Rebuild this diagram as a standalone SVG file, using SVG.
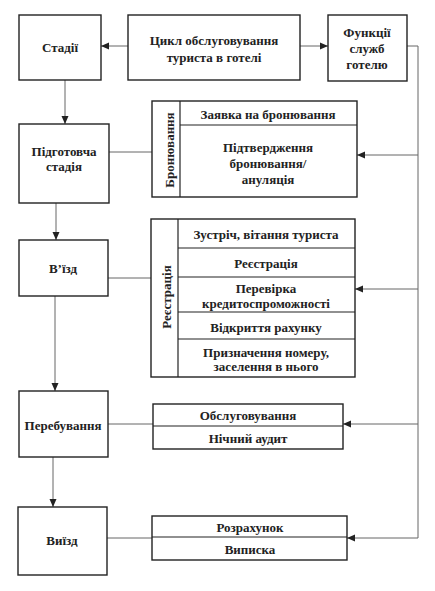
<svg xmlns="http://www.w3.org/2000/svg" width="435" height="591" viewBox="0 0 435 591">
<defs>
<style>
.box{fill:#fff;stroke:#222;stroke-width:1.4}
.div{stroke:#222;stroke-width:1.2}
.con{fill:none;stroke:#666;stroke-width:1}
text{font-family:"Liberation Serif","DejaVu Serif",serif;font-size:13px;font-weight:bold;fill:#222;text-anchor:middle;dominant-baseline:central}
</style>
<marker id="ah" viewBox="0 0 8 8" refX="8" refY="4" markerWidth="8" markerHeight="8" markerUnits="userSpaceOnUse" orient="auto">
<path d="M0,0.5 L8,4 L0,7.5 Z" fill="#222"/>
</marker>
</defs>
<rect width="435" height="591" fill="#fff"/>

<g id="connectors">
<line class="con" x1="128" y1="46" x2="101" y2="46" marker-end="url(#ah)"/>
<line class="con" x1="300" y1="46" x2="328" y2="46" marker-end="url(#ah)"/>
<line class="con" x1="65" y1="80" x2="65" y2="124" marker-end="url(#ah)"/>
<line class="con" x1="56" y1="203" x2="56" y2="240" marker-end="url(#ah)"/>
<line class="con" x1="55" y1="296" x2="55" y2="391" marker-end="url(#ah)"/>
<line class="con" x1="53" y1="457" x2="53" y2="507" marker-end="url(#ah)"/>
<line class="con" x1="109" y1="152" x2="152" y2="152"/>
<line class="con" x1="108" y1="278" x2="151" y2="278"/>
<line class="con" x1="108" y1="424" x2="153" y2="424"/>
<line class="con" x1="107" y1="538" x2="152" y2="538"/>
<polyline class="con" points="407,46 418,46 418,538"/>
<line class="con" x1="418" y1="155" x2="357" y2="155" marker-end="url(#ah)"/>
<line class="con" x1="418" y1="289" x2="355" y2="289" marker-end="url(#ah)"/>
<line class="con" x1="418" y1="424" x2="343" y2="424" marker-end="url(#ah)"/>
<line class="con" x1="418" y1="538" x2="347" y2="538" marker-end="url(#ah)"/>
</g>

<g id="stadii">
<rect class="box" x="19" y="15" width="82" height="65"/>
<text x="60" y="47">Стадії</text>
</g>
<g id="cycle">
<rect class="box" x="128" y="15" width="172" height="65"/>
<text x="214" y="40">Цикл обслуговування</text>
<text x="214" y="57">туриста в готелі</text>
</g>
<g id="functions">
<rect class="box" x="328" y="15" width="79" height="66"/>
<text x="367" y="32">Функції</text>
<text x="367" y="48">служб</text>
<text x="367" y="64">готелю</text>
</g>

<g id="pidgotovcha">
<rect class="box" x="19" y="124" width="90" height="79"/>
<text x="64" y="151">Підготовча</text>
<text x="64" y="166">стадія</text>
</g>
<g id="bronuvannia">
<rect class="box" x="152" y="101" width="205" height="96"/>
<line class="div" x1="180" y1="101" x2="180" y2="197"/>
<line class="div" x1="180" y1="125" x2="357" y2="125"/>
<text transform="translate(169,150) rotate(-90)">Бронювання</text>
<text x="268" y="114">Заявка на бронювання</text>
<text x="268" y="147">Підтвердження</text>
<text x="268" y="163">бронювання/</text>
<text x="268" y="179">ануляція</text>
</g>

<g id="vizd">
<rect class="box" x="19" y="240" width="89" height="56"/>
<text x="63" y="268">В’їзд</text>
</g>
<g id="reiestratsiia">
<rect class="box" x="151" y="219" width="204" height="158"/>
<line class="div" x1="178" y1="219" x2="178" y2="377"/>
<line class="div" x1="178" y1="248" x2="355" y2="248"/>
<line class="div" x1="178" y1="277" x2="355" y2="277"/>
<line class="div" x1="178" y1="312" x2="355" y2="312"/>
<line class="div" x1="178" y1="339" x2="355" y2="339"/>
<text transform="translate(166,297) rotate(-90)">Реєстрація</text>
<text x="266" y="234">Зустріч, вітання туриста</text>
<text x="266" y="263">Реєстрація</text>
<text x="266" y="288">Перевірка</text>
<text x="266" y="303">кредитоспроможності</text>
<text x="266" y="327">Відкриття рахунку</text>
<text x="266" y="352">Призначення номеру,</text>
<text x="266" y="366">заселення в нього</text>
</g>

<g id="perebuvannia">
<rect class="box" x="19" y="391" width="89" height="66"/>
<text x="63" y="425">Перебування</text>
</g>
<g id="obsluhovuvannia">
<rect class="box" x="153" y="404" width="190" height="45"/>
<line class="div" x1="153" y1="426" x2="343" y2="426"/>
<text x="248" y="415">Обслуговування</text>
<text x="248" y="438">Нічний аудит</text>
</g>

<g id="vyizd">
<rect class="box" x="18" y="507" width="89" height="68"/>
<text x="62" y="540">Виїзд</text>
</g>
<g id="rozrakhunok">
<rect class="box" x="152" y="516" width="195" height="44"/>
<line class="div" x1="152" y1="537" x2="347" y2="537"/>
<text x="250" y="527">Розрахунок</text>
<text x="250" y="549">Виписка</text>
</g>
</svg>
